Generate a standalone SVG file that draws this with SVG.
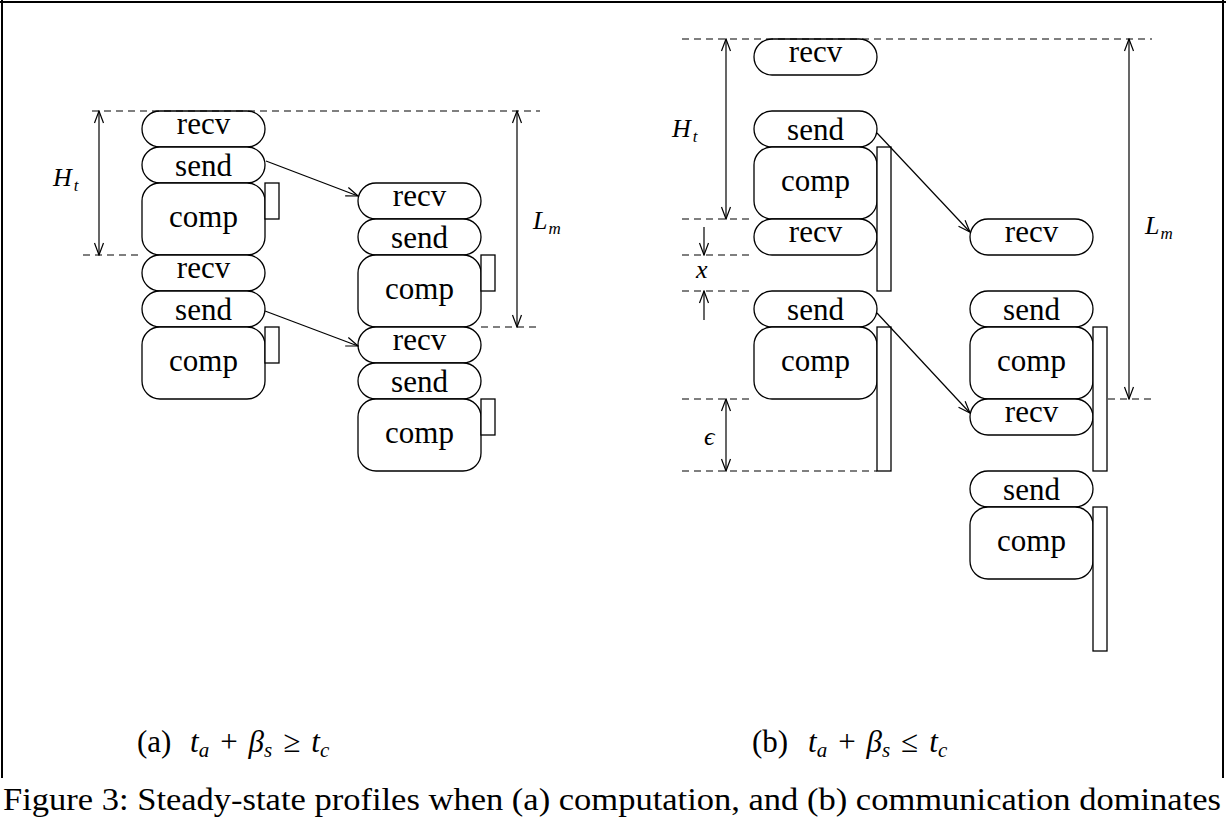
<svg xmlns="http://www.w3.org/2000/svg" width="1226" height="835" viewBox="0 0 1226 835">
<style>
.n{fill:#fff;stroke:#000;stroke-width:1.3}
.bar{fill:#fff;stroke:#000;stroke-width:1.3}
.t{font-family:"Liberation Serif","DejaVu Serif",serif;font-size:31px;text-anchor:middle;fill:#000}
.m{font-family:"Liberation Serif","DejaVu Serif",serif;font-style:italic;font-size:26px;fill:#000}
.sub{font-size:17px}
.d{stroke:#000;stroke-width:1.2;stroke-dasharray:7 5;fill:none}
.c{stroke:#000;stroke-width:1.2;fill:none}
.cap{font-family:"Liberation Serif","DejaVu Serif",serif;font-size:31px;fill:#000}
.frame{stroke:#000;stroke-width:2;fill:none}
</style>
<defs>
<marker id="ah" viewBox="-13 -6 14 12" refX="0" refY="0" markerWidth="14" markerHeight="12" markerUnits="userSpaceOnUse" orient="auto-start-reverse">
<path d="M-12,-4.5 L0,0 L-12,4.5" fill="none" stroke="#000" stroke-width="1.2"/>
</marker>
</defs>
<rect width="1226" height="835" fill="#fff"/>
<g id="frame">
<line class="frame" x1="2" y1="0" x2="2" y2="778"/>
<line class="frame" x1="0" y1="2" x2="1226" y2="2"/>
<line class="frame" x1="1223" y1="0" x2="1223" y2="778"/>
</g>

<!-- Diagram (a) -->
<g id="a-recv1"><rect class="n" x="142" y="111" width="123" height="36" rx="18"/><text class="t" x="203.5" y="134">recv</text></g>
<g id="a-send1"><rect class="n" x="142" y="147" width="123" height="36" rx="18"/><text class="t" x="203.5" y="176">send</text></g>
<g id="a-comp1"><rect class="n" x="142" y="183" width="123" height="72" rx="18"/><text class="t" x="203.5" y="227">comp</text><rect class="bar" x="265" y="183" width="14" height="36"/></g>
<g id="a-recv2"><rect class="n" x="142" y="255" width="123" height="36" rx="18"/><text class="t" x="203.5" y="278">recv</text></g>
<g id="a-send2"><rect class="n" x="142" y="291" width="123" height="36" rx="18"/><text class="t" x="203.5" y="320">send</text></g>
<g id="a-comp2"><rect class="n" x="142" y="327" width="123" height="72" rx="18"/><text class="t" x="203.5" y="371">comp</text><rect class="bar" x="265" y="327" width="14" height="36"/></g>

<g id="a-recv3"><rect class="n" x="358" y="183" width="123" height="36" rx="18"/><text class="t" x="419.5" y="206">recv</text></g>
<g id="a-send3"><rect class="n" x="358" y="219" width="123" height="36" rx="18"/><text class="t" x="419.5" y="248">send</text></g>
<g id="a-comp3"><rect class="n" x="358" y="255" width="123" height="72" rx="18"/><text class="t" x="419.5" y="299">comp</text><rect class="bar" x="481" y="255" width="14" height="36"/></g>
<g id="a-recv4"><rect class="n" x="358" y="327" width="123" height="36" rx="18"/><text class="t" x="419.5" y="350">recv</text></g>
<g id="a-send4"><rect class="n" x="358" y="363" width="123" height="36" rx="18"/><text class="t" x="419.5" y="392">send</text></g>
<g id="a-comp4"><rect class="n" x="358" y="399" width="123" height="72" rx="18"/><text class="t" x="419.5" y="443">comp</text><rect class="bar" x="481" y="399" width="14" height="36"/></g>

<!-- Diagram (b) -->
<g id="b-recv1"><rect class="n" x="754" y="39" width="123" height="36" rx="18"/><text class="t" x="815.5" y="62">recv</text></g>
<g id="b-send1"><rect class="n" x="754" y="111" width="123" height="36" rx="18"/><text class="t" x="815.5" y="140">send</text></g>
<g id="b-comp1"><rect class="n" x="754" y="147" width="123" height="72" rx="18"/><text class="t" x="815.5" y="191">comp</text></g>
<g id="b-recv2"><rect class="n" x="754" y="219" width="123" height="36" rx="18"/><text class="t" x="815.5" y="242">recv</text></g>
<g id="b-bar1"><rect class="bar" x="877" y="147" width="14" height="144"/></g>
<g id="b-send2"><rect class="n" x="754" y="291" width="123" height="36" rx="18"/><text class="t" x="815.5" y="320">send</text></g>
<g id="b-comp2"><rect class="n" x="754" y="327" width="123" height="72" rx="18"/><text class="t" x="815.5" y="371">comp</text></g>
<g id="b-bar2"><rect class="bar" x="877" y="327" width="14" height="144"/></g>

<g id="b-recv3"><rect class="n" x="970" y="219" width="123" height="36" rx="18"/><text class="t" x="1031.5" y="242">recv</text></g>
<g id="b-send3"><rect class="n" x="970" y="291" width="123" height="36" rx="18"/><text class="t" x="1031.5" y="320">send</text></g>
<g id="b-comp3"><rect class="n" x="970" y="327" width="123" height="72" rx="18"/><text class="t" x="1031.5" y="371">comp</text></g>
<g id="b-recv4"><rect class="n" x="970" y="399" width="123" height="36" rx="18"/><text class="t" x="1031.5" y="422">recv</text></g>
<g id="b-bar3"><rect class="bar" x="1093" y="327" width="14" height="144"/></g>
<g id="b-send4"><rect class="n" x="970" y="471" width="123" height="36" rx="18"/><text class="t" x="1031.5" y="500">send</text></g>
<g id="b-comp4"><rect class="n" x="970" y="507" width="123" height="72" rx="18"/><text class="t" x="1031.5" y="551">comp</text></g>
<g id="b-bar4"><rect class="bar" x="1093" y="507" width="14" height="144"/></g>

<g id="connectors">
<line class="d" x1="92" y1="111" x2="540" y2="111"/>
<line class="d" x1="83" y1="255" x2="142" y2="255"/>
<line class="d" x1="481" y1="327" x2="540" y2="327"/>
<line class="d" x1="682" y1="39" x2="1152" y2="39"/>
<line class="d" x1="682" y1="219" x2="754" y2="219"/>
<line class="d" x1="682" y1="255" x2="754" y2="255"/>
<line class="d" x1="682" y1="291" x2="754" y2="291"/>
<line class="d" x1="682" y1="399" x2="754" y2="399"/>
<line class="d" x1="1108" y1="399" x2="1152" y2="399"/>
<line class="d" x1="682" y1="471" x2="877" y2="471"/>
<line class="c" x1="99" y1="111" x2="99" y2="255" marker-start="url(#ah)" marker-end="url(#ah)"/>
<line class="c" x1="517" y1="111" x2="517" y2="327" marker-start="url(#ah)" marker-end="url(#ah)"/>
<line class="c" x1="726" y1="39" x2="726" y2="219" marker-start="url(#ah)" marker-end="url(#ah)"/>
<line class="c" x1="1129" y1="39" x2="1129" y2="399" marker-start="url(#ah)" marker-end="url(#ah)"/>
<line class="c" x1="726" y1="399" x2="726" y2="471" marker-start="url(#ah)" marker-end="url(#ah)"/>
<line class="c" x1="704" y1="227" x2="704" y2="255" marker-end="url(#ah)"/>
<line class="c" x1="704" y1="320" x2="704" y2="291" marker-end="url(#ah)"/>
<line class="c" x1="266" y1="161" x2="358" y2="196" marker-end="url(#ah)"/>
<line class="c" x1="265" y1="311" x2="358" y2="346" marker-end="url(#ah)"/>
<line class="c" x1="877" y1="133" x2="970" y2="232" marker-end="url(#ah)"/>
<line class="c" x1="877" y1="313" x2="970" y2="413" marker-end="url(#ah)"/>
</g>

<g id="labels">
<text class="m" x="53" y="186">H<tspan class="sub" dx="2" dy="5">t</tspan></text>
<text class="m" x="533" y="229">L<tspan class="sub" dx="1" dy="5">m</tspan></text>
<text class="m" x="672" y="137">H<tspan class="sub" dx="2" dy="5">t</tspan></text>
<text class="m" x="1145" y="234">L<tspan class="sub" dx="1" dy="5">m</tspan></text>
<text class="m" x="696" y="278">x</text>
<text class="m" x="704" y="445">ϵ</text>
</g>

<g id="captions">
<text class="cap" x="137" y="752">(a)<tspan x="190" font-style="italic">t</tspan><tspan font-style="italic" font-size="21" dy="5">a</tspan><tspan dy="-5" dx="11">+</tspan><tspan dx="11" font-style="italic">β</tspan><tspan font-style="italic" font-size="21" dy="5">s</tspan><tspan dy="-5" dx="11">≥</tspan><tspan dx="11" font-style="italic">t</tspan><tspan font-style="italic" font-size="21" dy="5">c</tspan></text>
<text class="cap" x="752" y="752">(b)<tspan x="808" font-style="italic">t</tspan><tspan font-style="italic" font-size="21" dy="5">a</tspan><tspan dy="-5" dx="11">+</tspan><tspan dx="11" font-style="italic">β</tspan><tspan font-style="italic" font-size="21" dy="5">s</tspan><tspan dy="-5" dx="11">≤</tspan><tspan dx="11" font-style="italic">t</tspan><tspan font-style="italic" font-size="21" dy="5">c</tspan></text>
<text class="cap" x="3" y="810" font-size="28" textLength="1218" lengthAdjust="spacingAndGlyphs">Figure 3: Steady-state profiles when (a) computation, and (b) communication dominates</text>
</g>
</svg>
